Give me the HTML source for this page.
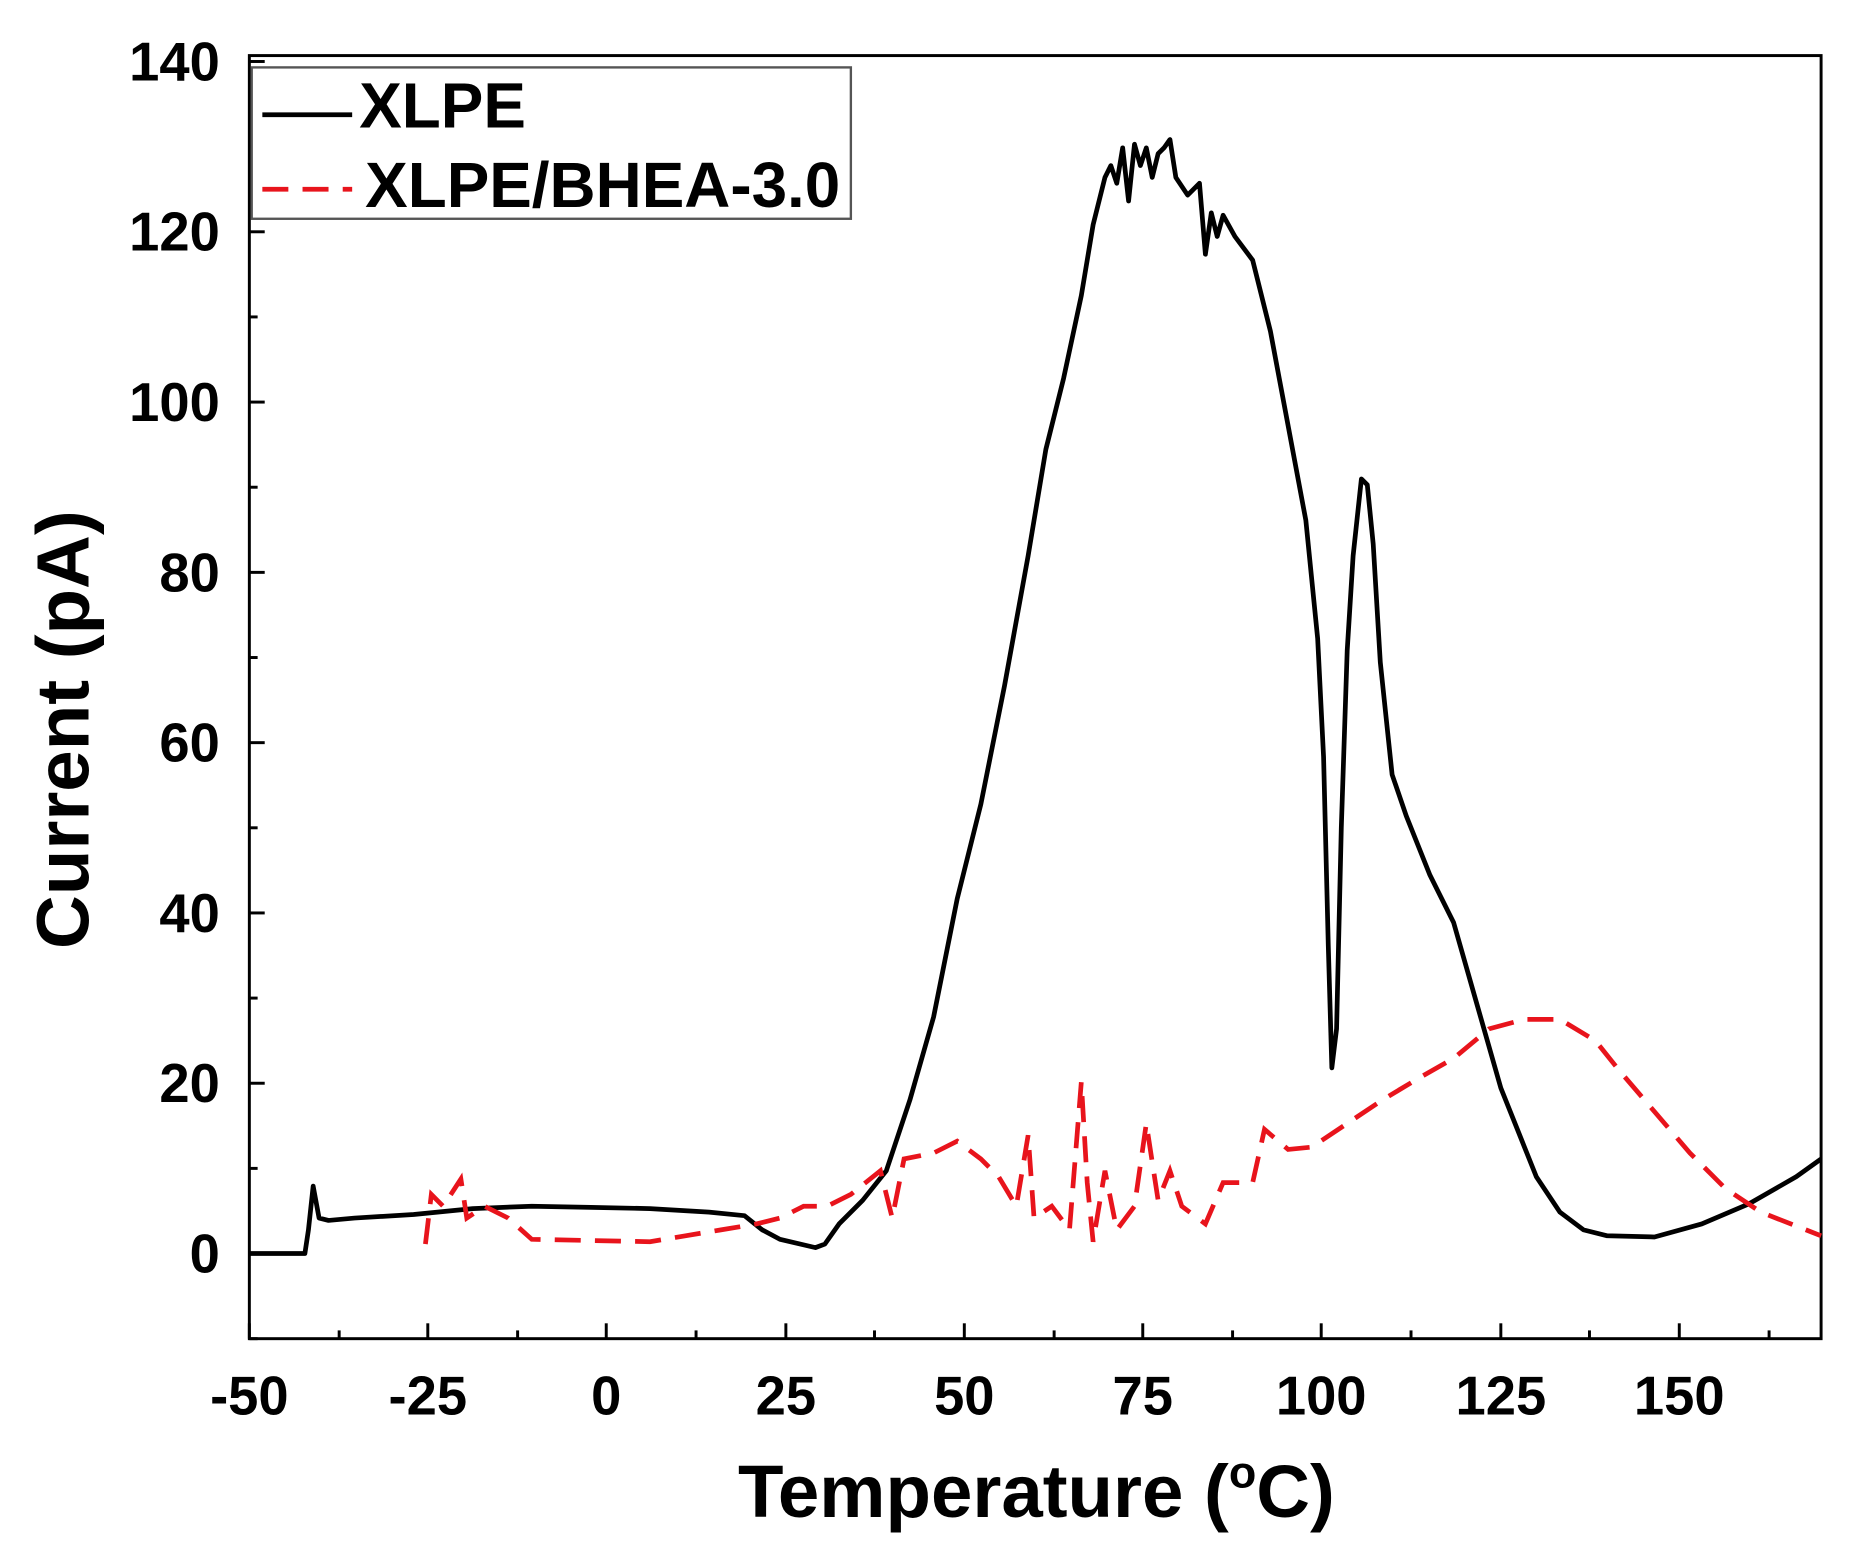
<!DOCTYPE html>
<html><head><meta charset="utf-8"><style>
html,body{margin:0;padding:0;background:#fff;}
svg{display:block;}
text{font-family:"Liberation Sans",Arial,sans-serif;font-weight:bold;fill:#000;}
</style></head><body>
<svg width="1853" height="1561" viewBox="0 0 1568 1320" preserveAspectRatio="none" xmlns="http://www.w3.org/2000/svg">
<rect x="0" y="0" width="1568" height="1320" fill="#fff"/>
<g stroke="#000" stroke-width="2.5">
<line x1="211" y1="1132" x2="211" y2="1119"/><line x1="362" y1="1132" x2="362" y2="1119"/>
<line x1="513" y1="1132" x2="513" y2="1119"/><line x1="665" y1="1132" x2="665" y2="1119"/>
<line x1="816" y1="1132" x2="816" y2="1119"/><line x1="967" y1="1132" x2="967" y2="1119"/>
<line x1="1118" y1="1132" x2="1118" y2="1119"/><line x1="1270" y1="1132" x2="1270" y2="1119"/>
<line x1="1421" y1="1132" x2="1421" y2="1119"/>
<line x1="287" y1="1132" x2="287" y2="1125"/><line x1="438" y1="1132" x2="438" y2="1125"/>
<line x1="589" y1="1132" x2="589" y2="1125"/><line x1="740" y1="1132" x2="740" y2="1125"/>
<line x1="892" y1="1132" x2="892" y2="1125"/><line x1="1043" y1="1132" x2="1043" y2="1125"/>
<line x1="1194" y1="1132" x2="1194" y2="1125"/><line x1="1345" y1="1132" x2="1345" y2="1125"/>
<line x1="1497" y1="1132" x2="1497" y2="1125"/>
<line x1="211" y1="1060" x2="224" y2="1060"/><line x1="211" y1="916" x2="224" y2="916"/>
<line x1="211" y1="772" x2="224" y2="772"/><line x1="211" y1="628" x2="224" y2="628"/>
<line x1="211" y1="484" x2="224" y2="484"/><line x1="211" y1="340" x2="224" y2="340"/>
<line x1="211" y1="196" x2="224" y2="196"/><line x1="211" y1="52" x2="224" y2="52"/>
<line x1="211" y1="1132" x2="218" y2="1132"/><line x1="211" y1="988" x2="218" y2="988"/>
<line x1="211" y1="844" x2="218" y2="844"/><line x1="211" y1="700" x2="218" y2="700"/>
<line x1="211" y1="556" x2="218" y2="556"/><line x1="211" y1="412" x2="218" y2="412"/>
<line x1="211" y1="268" x2="218" y2="268"/><line x1="211" y1="124" x2="218" y2="124"/>
</g>
<rect x="211" y="47" width="1330" height="1085" fill="none" stroke="#000" stroke-width="2.5"/>
<g font-size="46" text-anchor="middle">
<text x="211" y="1196">-50</text><text x="362" y="1196">-25</text><text x="513" y="1196">0</text>
<text x="665" y="1196">25</text><text x="816" y="1196">50</text><text x="967" y="1196">75</text>
<text x="1118" y="1196">100</text><text x="1270" y="1196">125</text><text x="1421" y="1196">150</text>
</g>
<g font-size="46" text-anchor="end">
<text x="186" y="1076">0</text><text x="186" y="932">20</text><text x="186" y="788">40</text>
<text x="186" y="644">60</text><text x="186" y="500">80</text><text x="186" y="356">100</text>
<text x="186" y="212">120</text><text x="186" y="68">140</text>
</g>
<text x="877" y="1283" font-size="63" text-anchor="middle">Temperature (<tspan font-size="38" dy="-25">o</tspan><tspan dy="25">C)</tspan></text>
<text transform="translate(75,617) rotate(-90)" font-size="63" text-anchor="middle">Current (pA)</text>
<polyline fill="none" stroke="#000" stroke-width="4" stroke-linejoin="round" points="211,1060 258,1060 261,1040 265,1003 270,1030 278,1032 300,1030 350,1027 400,1022 450,1020 500,1021 550,1022 600,1025 630,1028 645,1040 660,1048 690,1055 698,1052 710,1035 730,1015 750,990 770,930 790,860 810,760 830,680 850,580 870,470 885,380 900,320 915,250 925,190 935,150 940,140 945,155 950,125 955,170 960,122 965,140 970,125 975,150 980,130 985,125 990,118 995,150 1005,165 1015,155 1020,215 1025,180 1030,200 1035,182 1045,200 1060,220 1075,280 1090,360 1105,440 1115,540 1120,640 1124,800 1127,903 1131,870 1135,700 1140,550 1145,470 1152,405 1157,410 1162,460 1168,560 1178,655 1190,690 1210,740 1230,780 1250,850 1270,920 1290,970 1300,995 1320,1025 1340,1040 1360,1045 1400,1046 1440,1035 1480,1018 1520,995 1541,980"/>
<polyline fill="none" stroke="#e8141c" stroke-width="4" stroke-dasharray="22,12" points="360,1052 365,1010 375,1020 390,997 395,1030 410,1020 430,1030 450,1048 500,1049 550,1050 580,1045 610,1040 640,1035 660,1030 680,1020 700,1020 720,1010 745,990 755,1030 765,980 790,975 810,965 830,980 845,995 860,1020 870,960 875,1030 890,1020 905,1040 915,915 920,1000 925,1050 935,990 945,1040 960,1020 970,950 980,1015 990,990 1000,1020 1020,1035 1035,1000 1060,1000 1070,955 1090,972 1110,970 1140,950 1170,930 1200,912 1230,895 1260,870 1290,862 1320,862 1350,880 1370,905 1400,940 1430,975 1460,1005 1490,1025 1541,1045"/>
<rect x="213" y="57" width="507" height="128" fill="#fff" stroke="#555" stroke-width="2"/>
<line x1="222" y1="97" x2="298" y2="97" stroke="#000" stroke-width="4"/>
<text x="304" y="108" font-size="54">XLPE</text>
<line x1="222" y1="160" x2="298" y2="160" stroke="#e8141c" stroke-width="4" stroke-dasharray="22,12"/>
<text x="309" y="175" font-size="54">XLPE/BHEA-3.0</text>
</svg>
</body></html>
